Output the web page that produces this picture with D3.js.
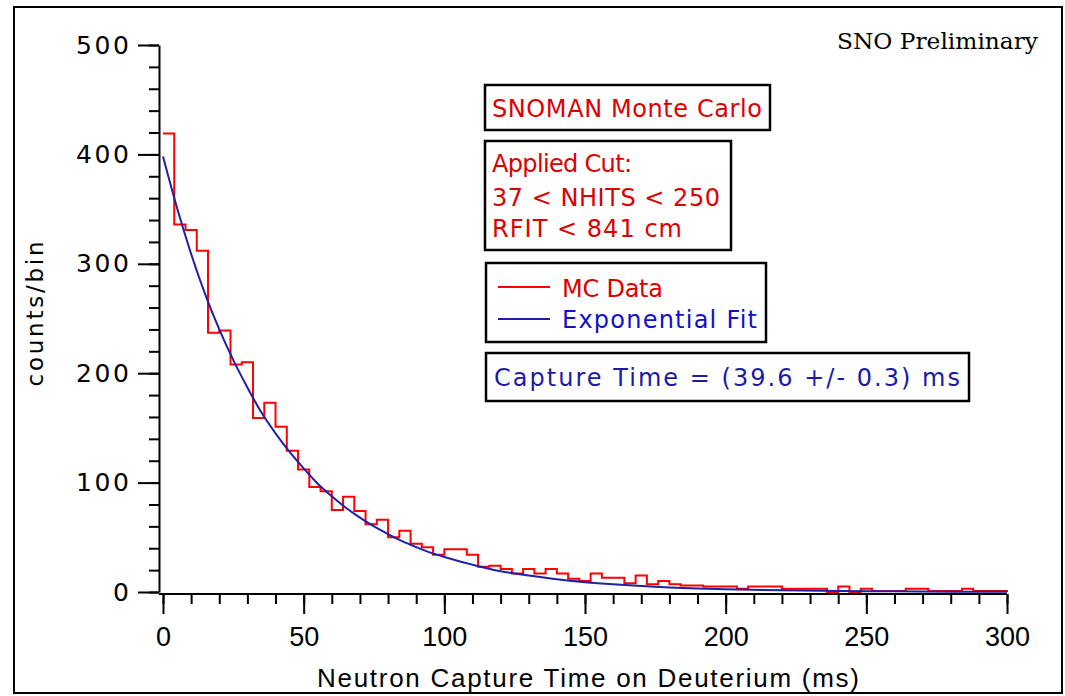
<!DOCTYPE html>
<html>
<head>
<meta charset="utf-8">
<script src="https://cdn.jsdelivr.net/npm/d3@7"></script>
<style>
  body { margin: 0; background: #fff; }
  svg { display: block; }
</style>
</head>
<body>
<div id="chart"></div>
<script>
// histogram: 4 ms bins from 0 to 300 ms
const binWidth = 4
const counts = [
  419, 336, 331, 312, 237, 239, 208, 210, 159, 173,
  151, 129, 112, 96, 92, 75, 87, 74, 62, 66,
  50, 56, 44, 41, 34, 39, 39, 34, 23, 24,
  21, 17, 21, 17, 21, 17, 12, 10, 17, 13,
  13, 8, 15, 7, 10, 7, 6, 6, 5, 5,
  5, 3, 5, 5, 5, 3, 3, 3, 3, 0,
  5, 0, 3, 1, 1, 1, 3, 3, 1, 1,
  1, 3, 1, 1, 1
]

// exponential fit
const fitTimes = [0, 5, 10, 15, 20, 25, 30, 35, 40, 45, 50, 55, 60, 65, 70, 75, 80, 85, 90, 95,
  100, 110, 120, 130, 140, 150, 160, 170, 180, 190, 200, 220, 240, 260, 280, 300]
const fitValues = [398, 351, 309, 272, 240, 212, 187, 164, 145, 128, 113, 99, 87.5, 77, 68, 60, 53, 46.5, 41, 36,
  32, 25, 19, 15, 11.6, 9, 7, 5.4, 4.2, 3.3, 2.6, 1.5, 0.9, 0.6, 0.3, 0.2]

const xTicks = [0, 50, 100, 150, 200, 250, 300]
const xMinor = d3.range(0, 301, 10)
const yTicks = [0, 100, 200, 300, 400, 500]
const yMinor = d3.range(0, 501, 20)

const red = '#ff0000', redText = '#dd0000'
const blue = '#1f1fa8', blueText = '#1010cc'

const width = 1065, height = 696

const svg = d3.select('#chart').append('svg')
  .attr('width', width)
  .attr('height', height)

// outer frame
svg.append('rect')
  .attr('x', 14).attr('y', 7)
  .attr('width', 1048).attr('height', 686)
  .attr('fill', 'none')
  .attr('stroke', '#000')
  .attr('stroke-width', 2)

const xScale = d3.scaleLinear().domain([0, 300]).range([163, 1007])
const yScale = d3.scaleLinear().domain([0, 500]).range([592, 45])

// y axis
const yAxisX = 159
svg.append('g')
  .attr('transform', `translate(${yAxisX},0)`)
  .call(d3.axisLeft(yScale).tickValues(yMinor).tickSize(10).tickSizeOuter(0).tickFormat(''))
  .call(g => g.selectAll('line,path').attr('stroke', '#000').attr('stroke-width', 2))
svg.append('g')
  .attr('transform', `translate(${yAxisX},0)`)
  .call(d3.axisLeft(yScale).tickValues(yTicks).tickSize(21).tickPadding(9).tickSizeOuter(0))
  .call(g => g.select('.domain').remove())
  .call(g => g.selectAll('line').attr('stroke', '#000').attr('stroke-width', 2))
  .call(g => g.selectAll('text')
    .attr('font-family', 'DejaVu Sans, sans-serif')
    .attr('font-size', 25)
    .attr('letter-spacing', 2.6)
    .attr('dx', 2.6)
    .attr('fill', '#000'))

// x axis
const xAxisY = 594
svg.append('g')
  .attr('transform', `translate(0,${xAxisY})`)
  .call(d3.axisBottom(xScale).tickValues(xMinor).tickSize(10).tickSizeOuter(0).tickFormat(''))
  .call(g => g.select('.domain').attr('d', `M${yAxisX},0H${xScale(300)}`))
  .call(g => g.selectAll('line,path').attr('stroke', '#000').attr('stroke-width', 2))
svg.append('g')
  .attr('transform', `translate(0,${xAxisY})`)
  .call(d3.axisBottom(xScale).tickValues(xTicks).tickSize(20).tickPadding(13).tickSizeOuter(0))
  .call(g => g.select('.domain').remove())
  .call(g => g.selectAll('line').attr('stroke', '#000').attr('stroke-width', 2))
  .call(g => g.selectAll('text')
    .attr('font-family', 'Liberation Sans, Arial, sans-serif')
    .attr('font-size', 27)
    .attr('fill', '#000'))

// axis titles
svg.append('text')
  .attr('x', xScale(150) + 3)
  .attr('y', 687)
  .attr('text-anchor', 'middle')
  .attr('font-family', 'Liberation Sans, Arial, sans-serif')
  .attr('font-size', 26)
  .attr('textLength', 542)
  .attr('lengthAdjust', 'spacing')
  .text('Neutron Capture Time on Deuterium (ms)')

svg.append('text')
  .attr('transform', 'translate(43,314) rotate(-90)')
  .attr('text-anchor', 'middle')
  .attr('font-family', 'DejaVu Sans, sans-serif')
  .attr('font-size', 23)
  .attr('textLength', 145)
  .attr('lengthAdjust', 'spacing')
  .text('counts/bin')

// histogram
const histPoints = counts.map((c, i) => [i * binWidth, c])
histPoints.push([300, counts[counts.length - 1]], [300, 0])
const histLine = d3.line()
  .x(d => xScale(d[0]))
  .y(d => yScale(d[1]))
  .curve(d3.curveStepAfter)
svg.append('path')
  .datum(histPoints)
  .attr('d', histLine)
  .attr('fill', 'none')
  .attr('stroke', red)
  .attr('stroke-width', 2)

// fit
const fitLine = d3.line()
  .x((d, i) => xScale(fitTimes[i]))
  .y(d => yScale(d))
  .curve(d3.curveMonotoneX)
svg.append('path')
  .datum(fitValues)
  .attr('d', fitLine)
  .attr('fill', 'none')
  .attr('stroke', blue)
  .attr('stroke-width', 2)

// annotation boxes
function box(x, y, w, h) {
  svg.append('rect')
    .attr('x', x).attr('y', y)
    .attr('width', w).attr('height', h)
    .attr('fill', '#fff')
    .attr('stroke', '#000')
    .attr('stroke-width', 2.5)
}
function label(x, y, str, color, len) {
  const t = svg.append('text')
    .attr('x', x).attr('y', y)
    .attr('font-family', 'DejaVu Sans, sans-serif')
    .attr('font-size', 24)
    .attr('fill', color)
    .text(str)
  if (len) t.attr('textLength', len).attr('lengthAdjust', 'spacing')
  return t
}

box(485, 85, 285, 45)
label(492, 117, 'SNOMAN Monte Carlo', redText, 270)

box(485, 141, 246, 109)
label(492, 172, 'Applied Cut:', redText, 140)
label(492, 206, '37 < NHITS < 250', redText, 228)
label(492, 237, 'RFIT < 841 cm', redText, 190)

box(486, 263, 280, 79)
svg.append('line')
  .attr('x1', 498).attr('x2', 550)
  .attr('y1', 287).attr('y2', 287)
  .attr('stroke', red).attr('stroke-width', 2)
label(562, 297, 'MC Data', redText, 101)
svg.append('line')
  .attr('x1', 498).attr('x2', 550)
  .attr('y1', 319).attr('y2', 319)
  .attr('stroke', blue).attr('stroke-width', 2)
label(562, 328, 'Exponential Fit', blueText, 195)

box(486, 353, 483, 48)
label(494, 386, 'Capture Time = (39.6 +/- 0.3) ms', '#1a1aa8', 466)

svg.append('text')
  .attr('x', 837).attr('y', 49)
  .attr('font-family', 'DejaVu Serif, serif')
  .attr('font-size', 22)
  .attr('textLength', 201)
  .attr('lengthAdjust', 'spacingAndGlyphs')
  .attr('fill', '#000')
  .text('SNO Preliminary')
</script>
</body>
</html>
